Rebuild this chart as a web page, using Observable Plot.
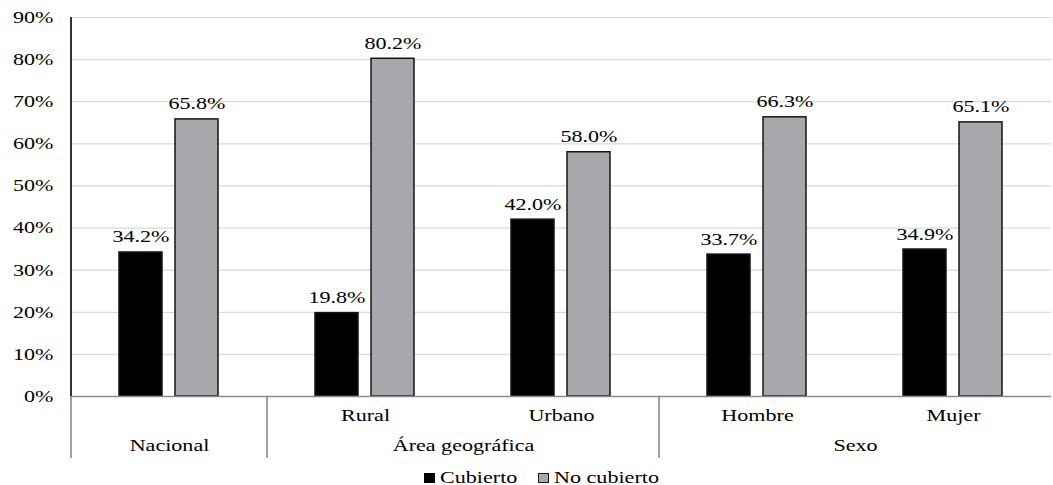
<!DOCTYPE html>
<html>
<head>
<meta charset="utf-8">
<script src="https://cdn.jsdelivr.net/npm/d3@7"></script>
<script src="https://cdn.jsdelivr.net/npm/@observablehq/plot@0.6"></script>
<style>
  body { margin: 0; background: #fff; }
  #chart { width: 1053px; }
  .legend { position: relative; width: 1053px; height: 22px; font-family: 'Liberation Serif', serif; font-size: 17px; color: #000; }
  .legend .sw { position: absolute; top: 10px; width: 11px; height: 10px; box-sizing: border-box; }
  .legend .lab { position: absolute; top: 6px; line-height: 17px; white-space: nowrap; transform: scaleX(1.3); transform-origin: left center; }
</style>
</head>
<body>
<div id="chart"></div>
<div class="legend">
  <span class="sw" style="left:424px;background:#000;"></span>
  <span class="lab" style="left:440px;">Cubierto</span>
  <span class="sw" style="left:538px;background:#a6a8ab;border:1px solid #1a1a1a;"></span>
  <span class="lab" style="left:554px;">No cubierto</span>
</div>
<script>
// Categories along the horizontal axis and the two coverage series
const categories = ["Nacional", "Rural", "Urbano", "Hombre", "Mujer"];
const series = ["Cubierto", "No cubierto"];
const cubierto = [34.2, 19.8, 42.0, 33.7, 34.9];
const noCubierto = [65.8, 80.2, 58.0, 66.3, 65.1];

// First row of axis labels (one per category) and the grouping row beneath it
const subLabels = ["", "Rural", "Urbano", "Hombre", "Mujer"];
const groupNames = ["Nacional", "Área geográfica", "Sexo"];
const groupFirst = ["Nacional", "Rural", "Hombre"];
const groupLast = ["Nacional", "Urbano", "Mujer"];

// Vertical axis ticks (percent)
const yTicks = [0, 10, 20, 30, 40, 50, 60, 70, 80, 90];

const rows = categories.flatMap((c, i) => [
  {cat: c, serie: series[0], value: cubierto[i]},
  {cat: c, serie: series[1], value: noCubierto[i]}
]);
const subRows = categories.map((c, i) => ({cat: c, label: subLabels[i]}));
const groupRows = groupNames.map((g, i) => ({label: g, first: groupFirst[i], last: groupLast[i]}));

const plot = Plot.plot({
  width: 1053,
  height: 463,
  marginLeft: 69,
  marginRight: 0,
  marginTop: 17,
  marginBottom: 67,
  style: {fontFamily: "'Liberation Serif', serif", fontSize: "17px", color: "#000", background: "#fff"},
  fx: {domain: categories, padding: 0, axis: null},
  x: {domain: series, paddingInner: 0.228, paddingOuter: 0.842, axis: null},
  y: {domain: [0, 90], axis: null},
  color: {domain: series, range: ["#000000", "#a6a8ab"]},
  marks: [
    Plot.gridY(yTicks, {stroke: "#d9d9d9", strokeOpacity: 1, strokeWidth: 1.2}),
    Plot.axisY(yTicks, {tickSize: 0, tickPadding: 18, tickFormat: d => d + "%", label: null, fontSize: 17}),
    Plot.barY(rows, {fx: "cat", x: "serie", y: "value", fill: "serie", stroke: "#151515", strokeWidth: 1.5}),
    Plot.text(rows, {fx: "cat", x: "serie", y: "value", text: d => d.value.toFixed(1) + "%", dy: -10, lineAnchor: "bottom", fontSize: 17}),
    Plot.ruleY([0], {stroke: "#8c8c8c", strokeWidth: 1.5}),
    Plot.text(subRows, {fx: "cat", text: "label", frameAnchor: "bottom", dy: 24, fontSize: 17}),
    Plot.text(groupRows.filter(g => g.first === g.last), {fx: "first", text: "label", frameAnchor: "bottom", dy: 54, fontSize: 17}),
    Plot.text(groupRows.filter(g => g.first !== g.last), {fx: "first", text: "label", frameAnchor: "bottom-right", textAnchor: "middle", dy: 54, fontSize: 17})
  ]
});

// Widen the serif glyphs horizontally around each label's anchor point
const stretch = 1.3;
d3.select(plot).selectAll("text").each(function () {
  const x = +this.getAttribute("x") || 0;
  const y = +this.getAttribute("y") || 0;
  const t = this.getAttribute("transform") || "";
  this.setAttribute("transform", `${t} translate(${x},${y}) scale(${stretch},1) translate(${-x},${-y})`);
});

// Vertical axis line and the separators between category groups
const fx = plot.scale("fx");
const y = plot.scale("y");
const y0 = y.apply(0);
const y90 = y.apply(90);
const g = d3.select(plot).append("g");
g.append("line")
  .attr("x1", fx.apply(categories[0])).attr("x2", fx.apply(categories[0]))
  .attr("y1", y90).attr("y2", y0)
  .attr("stroke", "#000").attr("stroke-width", 1.6);
groupFirst.forEach(c => {
  const xx = fx.apply(c);
  g.append("line")
    .attr("x1", xx).attr("x2", xx)
    .attr("y1", y0).attr("y2", y0 + 62)
    .attr("stroke", "#7f7f7f").attr("stroke-width", 1.5);
});

document.getElementById("chart").append(plot);
</script>
</body>
</html>
